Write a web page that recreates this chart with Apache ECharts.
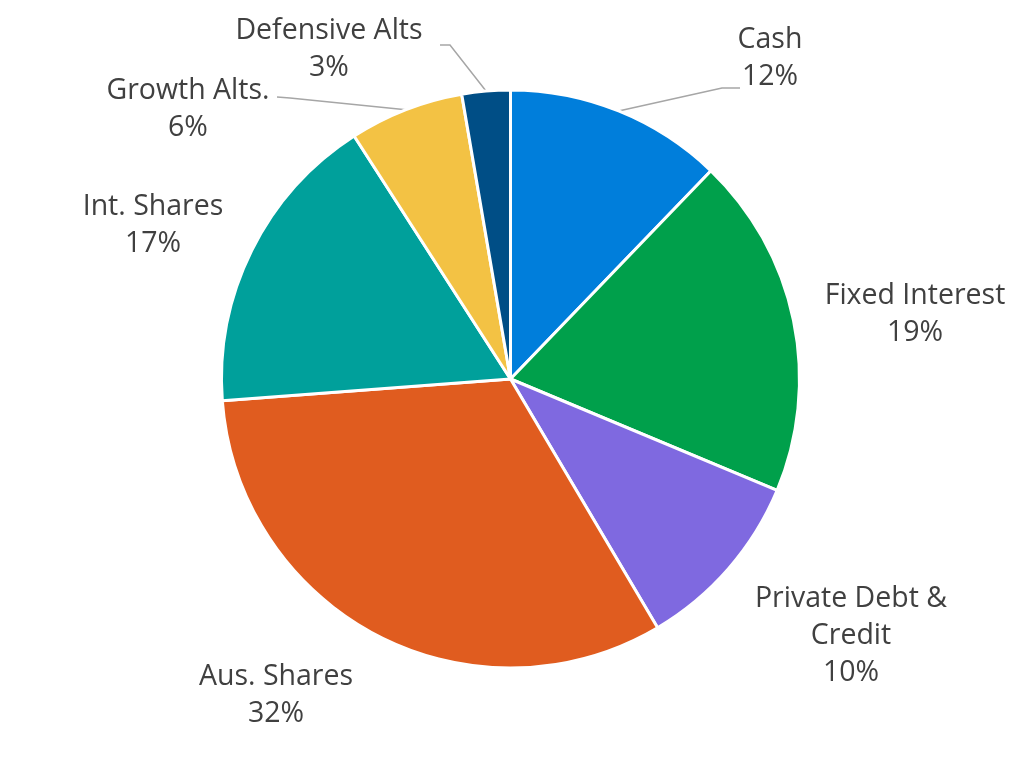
<!DOCTYPE html>
<html><head><meta charset="utf-8">
<script src="https://cdn.jsdelivr.net/npm/echarts@6/dist/echarts.min.js"></script>
<style>html,body{margin:0;padding:0;background:#fff}#c{width:1024px;height:761px}</style>
</head><body><div id="c"></div>
<script>
const categories = ['Cash','Fixed Interest','Private Debt &\nCredit','Aus. Shares','Int. Shares','Growth Alts.','Defensive Alts'];
const values = [12.2, 19.1, 10.2, 32.3, 17.1, 6.4, 2.7];
const colors = ['#007EDB','#00A04B','#7F69E0','#E05C1F','#00A09B','#F3C244','#004E86'];
const showLine = [true,false,false,false,false,true,true];
// label centre positions (layout)
const labelPos = [[770,58],[915,314],[851,636],[276,695],[153,225],[188,109],[329,49]];
// leader line elbow + end points (layout)
const guide = {0:[[722,88],[740,88]], 5:[[290,98],[277,97]], 6:[[450,45],[440,45]]};

const chart = echarts.init(document.getElementById('c'));
chart.setOption({
  animation:false,
  series:[{
    type:'pie',
    center:[510.5,379],
    radius:[0,289],
    startAngle:90,
    clockwise:true,
    data: categories.map((n,i)=>({name:n,value:values[i],itemStyle:{color:colors[i]},labelLine:{show:showLine[i]}})),
    itemStyle:{borderColor:'#fff',borderWidth:3},
    label:{show:true,position:'outside',formatter:p=>p.name+'\n'+Math.round(p.value)+'%',
      fontFamily:'Open Sans',fontSize:28.5,lineHeight:37,color:'#404040',align:'center'},
    labelLine:{lineStyle:{color:'#A6A6A6',width:1.5},length:15,length2:15},
    labelLayout: p => {
      const o = {x:labelPos[p.dataIndex][0], y:labelPos[p.dataIndex][1], align:'center', verticalAlign:'middle'};
      const g = guide[p.dataIndex];
      if (g && p.labelLinePoints) o.labelLinePoints = [p.labelLinePoints[0], g[0], g[1]];
      return o;
    }
  }]
});
</script></body></html>
